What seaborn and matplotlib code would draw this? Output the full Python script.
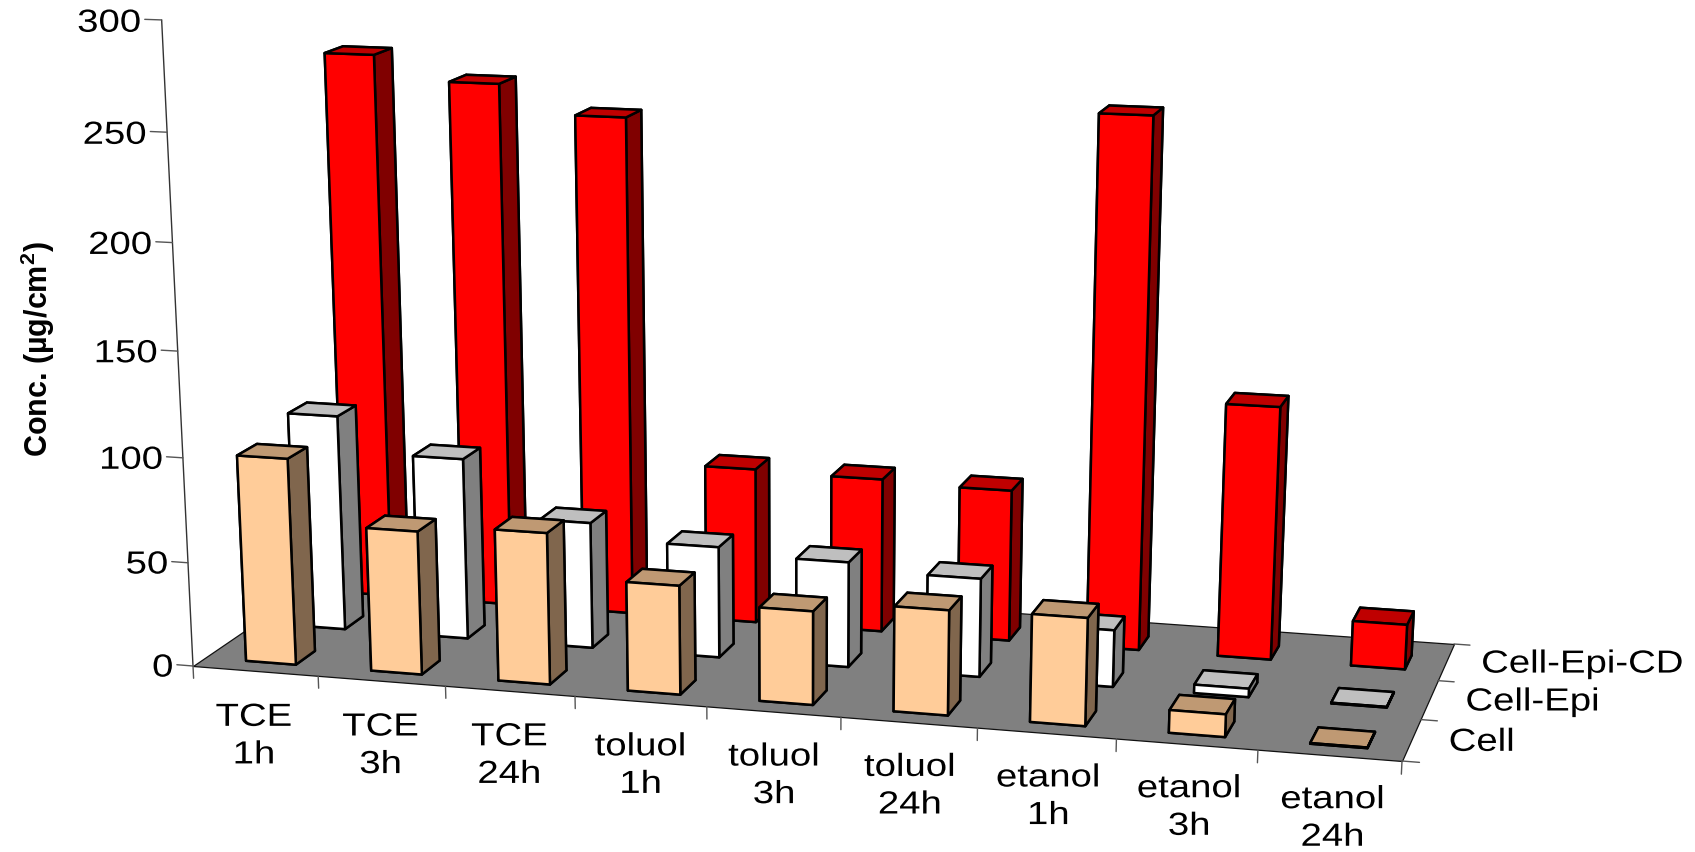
import numpy as np
import pandas as pd
import seaborn as sns
import matplotlib
matplotlib.use("Agg")
import matplotlib.pyplot as plt
from matplotlib.colors import to_rgb
from matplotlib.patheffects import AbstractPathEffect
from matplotlib.transforms import Affine2D
from mpl_toolkits.mplot3d import proj3d
from mpl_toolkits.mplot3d.art3d import Poly3DCollection

# Measurements, in the order the categories run along the front of the floor
categories = ["TCE\n1h", "TCE\n3h", "TCE\n24h",
              "toluol\n1h", "toluol\n3h", "toluol\n24h",
              "etanol\n1h", "etanol\n3h", "etanol\n24h"]
series_names = ["Cell", "Cell-Epi", "Cell-Epi-CD"]
cell = [99, 68.5, 72, 51.5, 44, 49, 50, 10.5, 0.3]
cell_epi = [105, 88, 61, 53.5, 50.5, 47, 27, 4, 0.3]
cell_epi_cd = [267, 255.5, 242, 76, 75, 73.5, 252.5, 121, 21.5]
z_ticks = [0, 50, 100, 150, 200, 250, 300]

series_colors = ["#FFCC99", "#FFFFFF", "#FF0000"]

FIG_W, FIG_H = 1695, 853
BAR_WIDTH, BAR_DEPTH = 0.40, 0.38
BAR_X_OFFSET, BAR_Y_OFFSET = 0.33, 0.23
TEXT_STRETCH = 1.2

sns.set_theme(style="white", font="Liberation Sans")
plt.rcParams["mathtext.default"] = "regular"

df = pd.DataFrame({"Cell": cell, "Cell-Epi": cell_epi, "Cell-Epi-CD": cell_epi_cd},
                  index=categories)


def floor_homography(world, image):
    """Solve the 3x3 homography taking floor coordinates to pixel positions."""
    rows, rhs = [], []
    for (x, y), (u, v) in zip(world, image):
        rows.append([x, y, 1, 0, 0, 0, -u * x, -u * y])
        rows.append([0, 0, 0, x, y, 1, -v * x, -v * y])
        rhs += [u, v]
    return np.append(np.linalg.solve(np.array(rows, float), np.array(rhs, float)), 1).reshape(3, 3)


# Perspective camera: floor corners in pixels plus the image of the vertical axis
H = floor_homography([(0, 0), (9, 0), (9, 3), (0, 3)],
                     [(193, 667), (1402, 762), (1454, 645), (341, 566)])
VERTICAL = np.array([-0.131, -2.157, -1.64e-4])
CAMERA = np.column_stack([H[:, 0], H[:, 1], VERTICAL, H[:, 2]])


class HorizontalStretch(AbstractPathEffect):
    """Draw a text's glyphs wider than the font's natural proportions."""

    def __init__(self, text, factor):
        super().__init__()
        self.text, self.factor = text, factor

    def draw_path(self, renderer, gc, tpath, affine, rgbFace=None):
        box = self.text.get_window_extent(self.text.get_figure()._get_renderer())
        ha = self.text.get_ha()
        pivot = {"left": box.x0, "right": box.x1}.get(ha, 0.5 * (box.x0 + box.x1))
        wide = affine + Affine2D().translate(-pivot, 0).scale(self.factor, 1).translate(pivot, 0)
        renderer.draw_path(gc, tpath, wide, rgbFace)


def wide_text(x, y, z, s, size=23, **kwargs):
    """Place a label at a 3D location, as a plain text in the axes' view plane."""
    xv, yv, _ = proj3d.proj_transform(x, y, z, projection)
    t = ax.text2D(xv, yv, s, transform=ax.transData, size=size, color="black", zorder=50, **kwargs)
    t.set_path_effects([HorizontalStretch(t, TEXT_STRETCH)])
    return t


fig = plt.figure(figsize=(FIG_W / 100, FIG_H / 100), dpi=100, facecolor="white")
side = FIG_W / FIG_H
ax = fig.add_axes([0, (1 - side) / 2, 1, side], projection="3d", computed_zorder=False)
ax.set_axis_off()
ax.patch.set_alpha(0)
ax.set_xlim(0, 9)
ax.set_ylim(0, 3)
ax.set_zlim(0, 300)
ax.apply_aspect()

# Express the camera in the axes' own view coordinates
to_view = ax.transData.inverted()
(u0, v0), (u1, v1) = to_view.transform([(0, FIG_H), (FIG_W, 0)])
a, b = (u1 - u0) / FIG_W, u0
c, d = (v1 - v0) / FIG_H, v0
projection = np.vstack([a * CAMERA[0] + b * CAMERA[2],
                        c * CAMERA[1] + d * CAMERA[2],
                        [0, 0, 0, -1],
                        CAMERA[2]])
ax.get_proj = lambda: projection

# Floor
n_cat, n_ser = len(categories), len(series_names)
floor = Poly3DCollection([[(0, 0, 0), (n_cat, 0, 0), (n_cat, n_ser, 0), (0, n_ser, 0)]],
                         facecolor="#808080", edgecolor="#111111", linewidth=0.9, zorder=1)
ax.add_collection3d(floor)

# Bars, painted from the back row forwards
order = 2
for j in range(n_ser - 1, -1, -1):
    base = np.array(to_rgb(series_colors[j]))
    top, right = tuple(base * 0.75), tuple(base * 0.5)
    front = tuple(base)
    # bar3d face order: bottom, top, front, back, left, right
    faces = [right, top, front, right, right, right]
    for i in range(n_cat):
        ax.bar3d(i + BAR_X_OFFSET, j + BAR_Y_OFFSET, 0, BAR_WIDTH, BAR_DEPTH,
                 df.iloc[i, j], color=faces, shade=False,
                 edgecolor="black", linewidth=1.8, zorder=order)
        order += 1

# Value axis with ticks and labels
axis_kw = dict(color="#555555", linewidth=1.0, zorder=40)
ax.plot([0, 0], [0, 0], [0, 300], color="#333333", linewidth=1.0, zorder=40)
for z in z_ticks:
    ax.plot([0, -0.13], [0, 0], [z, z], **axis_kw)
    wide_text(-0.16, 0, z - 2, str(z), ha="right", va="center")

# Category ticks and labels
for i in range(n_cat + 1):
    ax.plot([i, i], [0, 0], [0, -6], **axis_kw)
for i, name in enumerate(categories):
    wide_text(i * 0.97 + 0.92, -1.05, -10 + 0.4 * i, name, ha="center", va="center", linespacing=1.33)

# Series ticks and labels
for j in range(n_ser + 1):
    ax.plot([n_cat, n_cat + 0.12], [j, j], [0, 0], **axis_kw)
for j, name in enumerate(series_names):
    wide_text(n_cat + 0.26, j + 0.5, 0, name, ha="left", va="center")

fig.text(38 / FIG_W, 1 - 349 / FIG_H, "Conc. (µg/cm$^{2}$)", rotation=90, size=22,
         fontweight="bold", ha="center", va="center", color="black")

fig.savefig("out.png", dpi=100)
